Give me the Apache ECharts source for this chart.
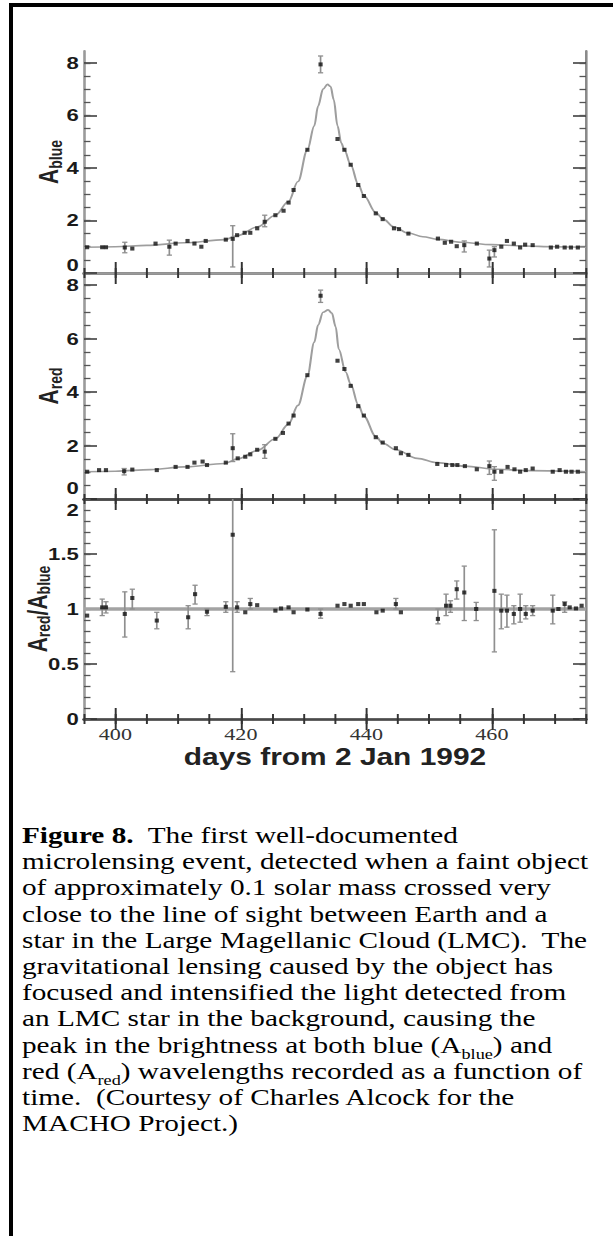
<!DOCTYPE html>
<html><head><meta charset="utf-8">
<script src="https://cdn.jsdelivr.net/npm/echarts@6/dist/echarts.min.js"></script>
<style>
html,body{margin:0;padding:0;background:#fff;width:613px;height:1236px;overflow:hidden;position:relative;}
#chart{position:absolute;left:0;top:0;width:471.5px;height:800px;transform:scaleX(1.3);transform-origin:0 0;z-index:1;}
#frameTop{position:absolute;left:9px;top:3px;width:604px;height:4px;background:#000;z-index:5;}
#frameLeft{position:absolute;left:9px;top:3px;width:4px;height:1233px;background:#000;z-index:5;}
#caption{position:absolute;left:22px;top:823px;font-family:"Liberation Serif","Times New Roman",serif;font-size:22.5px;line-height:26.2px;color:#000;white-space:nowrap;transform:scaleX(1.3);transform-origin:0 0;z-index:2;}
#caption sub{font-size:14px;line-height:0;}
</style></head><body>
<div id="chart"></div>
<div id="frameTop"></div><div id="frameLeft"></div>
<div id="caption"><b>Figure 8.</b>&nbsp; The first well-documented<br>microlensing event, detected when a faint object<br>of approximately 0.1 solar mass crossed very<br>close to the line of sight between Earth and a<br>star in the Large Magellanic Cloud (LMC).&nbsp; The<br>gravitational lensing caused by the object has<br>focused and intensified the light detected from<br>an LMC star in the background, causing the<br>peak in the brightness at both blue (A<sub>blue</sub>) and<br>red (A<sub>red</sub>) wavelengths recorded as a function of<br>time.&nbsp; (Courtesy of Charles Alcock for the<br>MACHO Project.)</div>
<script>
// ---------- axis settings ----------
const dayMin = 395, dayMax = 475;
const dayLabelTicks = [400, 420, 440, 460];
const dayMinorStep = 5;
const ampMax = 8.45;
const ampMajorTicks = [0, 2, 4, 6, 8];
const ampMinorStep = 0.5;
const ratioMax = 2;
const ratioMajorTicks = [0, 0.5, 1, 1.5, 2];
const ratioMinorStep = 0.1;
const ratioRefLevel = 1;

// ---------- A_blue ----------
const blueDays = [395.5,397.9,398.5,401.5,402.7,406.4,408.6,409.6,411.5,412.6,413.7,414.4,417.6,418.7,419.4,420.6,421.5,422.6,423.8,425.5,426.8,427.6,428.4,430.6,432.7,435.4,436.5,437.5,438.7,439.6,441.5,442.6,444.4,445.2,446.7,451.4,452.5,453.5,454.4,455.6,457.6,459.6,460.4,461.5,462.4,463.5,464.5,465.3,466.5,469.4,470.4,471.6,472.6,473.7];
const blueVals = [0.98,0.98,0.98,0.97,0.93,1.12,1.0,1.12,1.22,1.12,1.0,1.22,1.27,1.3,1.44,1.53,1.53,1.7,1.95,2.2,2.37,2.68,3.16,4.69,7.94,5.1,4.69,4.12,3.35,2.93,2.27,2.05,1.7,1.67,1.5,1.31,1.15,1.19,1.02,1.06,1.12,0.55,0.87,1.0,1.22,1.12,0.97,1.08,1.06,0.97,1.0,0.97,0.97,0.97];
const blueErrDays = [401.5,408.6,418.7,423.8,432.7,455.6,459.6,460.4];
const blueErrLow  = [0.77,0.68,0.23,1.76,7.62,0.8,0.23,0.61];
const blueErrHigh = [1.17,1.25,1.8,2.2,8.26,1.22,0.87,1.0];
const blueFitDays = [395,400,405,411,417.4,419.5,422.7,425.5,427.6,429.1,430.6,431.7,432.3,433.1,433.8,434.3,434.8,435.4,436,436.5,437.5,438.7,439.6,441.5,442.6,444.4,446.7,449,451.4,455,460,465,470,475];
const blueFitVals = [0.98,1.0,1.05,1.15,1.27,1.43,1.76,2.2,2.72,3.48,4.69,5.6,6.35,7.0,7.18,7.1,6.6,5.6,4.95,4.68,4.12,3.38,2.95,2.3,2.07,1.75,1.52,1.38,1.28,1.17,1.08,1.03,1.0,0.98];

// ---------- A_red ----------
const redDays = [395.5,397.4,398.5,401.4,402.7,406.6,409.6,411.5,412.6,413.9,414.6,417.6,418.7,419.5,420.7,421.5,422.6,423.8,425.5,426.7,427.6,428.4,430.6,432.7,435.4,436.5,437.5,438.7,439.6,441.5,442.6,444.7,445.5,446.7,451.3,452.7,453.7,454.5,455.7,457.6,459.6,460.4,461.5,462.5,463.6,464.5,465.4,466.5,469.7,470.8,471.8,472.7,473.7];
const redVals = [1.02,1.08,1.08,1.04,1.1,1.08,1.2,1.2,1.36,1.4,1.27,1.36,1.9,1.52,1.58,1.67,1.84,1.77,2.25,2.47,2.82,3.12,4.63,7.6,5.17,4.86,4.23,3.47,3.12,2.31,2.11,1.9,1.71,1.65,1.31,1.27,1.27,1.27,1.23,1.11,1.23,1.02,1.02,1.2,1.11,1.02,1.08,1.14,1.02,1.08,1.02,1.02,1.02];
const redErrDays = [401.4,418.7,423.8,432.7,459.6,460.4];
const redErrLow  = [0.9,1.4,1.52,7.35,0.92,0.7];
const redErrHigh = [1.14,2.44,2.03,7.81,1.42,1.21];
const redFitDays = [395,400,405.6,411,417.4,419.5,422.7,425.5,427.6,429.1,430.6,431.7,432.3,433.1,433.9,434.5,435.1,435.6,436.7,437.5,438.7,439.6,441.5,442.6,444.7,448.1,451.3,455.6,461,466.3,475];
const redFitVals = [1.02,1.04,1.1,1.2,1.33,1.5,1.82,2.25,2.8,3.5,4.6,5.86,6.5,6.98,7.07,6.95,6.45,5.6,4.75,4.3,3.53,3.1,2.34,2.09,1.84,1.52,1.36,1.23,1.11,1.06,1.02];

// ---------- A_red / A_blue ----------
const ratioDays = [395.5,397.9,398.5,401.5,402.7,406.6,411.6,412.7,414.6,417.6,418.7,419.4,420.7,421.5,422.6,425.5,426.4,427.6,428.4,430.6,432.7,435.4,436.5,437.5,438.7,439.6,441.6,442.6,444.7,445.5,451.4,452.7,453.4,454.4,455.6,457.5,460.4,461.5,462.4,463.5,464.5,465.4,466.5,469.7,470.6,471.6,472.4,473.4,474.3];
const ratioVals = [0.94,1.015,1.015,0.955,1.1,0.895,0.925,1.135,0.975,1.02,1.675,1.015,0.97,1.045,1.035,0.985,1.005,1.015,0.97,0.995,0.955,1.03,1.045,1.03,1.045,1.045,0.97,0.985,1.045,0.97,0.91,1.03,1.03,1.18,1.15,1.0,1.165,0.985,0.985,0.955,1.0,0.955,0.985,0.985,1.0,1.045,1.015,1.005,1.03];
const ratioErrDays = [397.9,398.5,401.5,402.7,406.6,411.6,412.7,414.6,417.6,418.7,419.4,421.5,432.7,444.7,451.4,452.7,453.4,454.4,455.6,457.5,460.4,461.5,462.4,463.5,464.5,465.4,466.5,469.7,471.6];
const ratioErrLow  = [0.94,0.964,0.745,1.0,0.82,0.82,1.045,0.94,0.97,0.43,0.97,1.0,0.916,1.0,0.865,0.94,0.97,1.09,0.895,0.895,0.61,0.82,0.835,0.865,0.88,0.91,0.94,0.865,0.97];
const ratioErrHigh = [1.09,1.066,1.156,1.18,0.97,1.03,1.216,1.0,1.066,2.92,1.066,1.096,1.0,1.096,1.0,1.135,1.075,1.255,1.39,1.06,1.72,1.135,1.126,1.03,1.135,1.03,1.03,1.126,1.066];

// ---------- layout / style ----------
const S = 1.3; // horizontal stretch of the original figure
const frameGray = '#9a9a9a', sharedDark = '#4a4a4a', tickColor = '#333';
const gridBox = [
  {left: 84 / S, top: 51, width: 502 / S, height: 222, outerBoundsMode: 'none'},
  {left: 84 / S, top: 273, width: 502 / S, height: 226, outerBoundsMode: 'none'},
  {left: 84 / S, top: 499, width: 502 / S, height: 220, outerBoundsMode: 'none'}
];
function steps(max, step) { const a = []; for (let i = 0; i * step <= max + 1e-9; i++) a.push(+(i * step).toFixed(4)); return a; }
const ampMinorTicks = steps(ampMax, ampMinorStep);
const ratioMinorTicks = steps(ratioMax, ratioMinorStep);
const zip = (a, b) => a.map((v, i) => [v, b[i]]);
const zip3 = (a, b, c) => a.map((v, i) => [v, b[i], c[i]]);

const xAxis = [], yAxis = [];
const lineColors = [[frameGray, sharedDark], [sharedDark, sharedDark], [sharedDark, frameGray]]; // [top, bottom]
const yNames = [
  '{a|A}{s|blue}',
  '{a|A}{s|red}',
  '{a|A}{s|red}{a|/A}{s|blue}'
];
const nameRich = {
  a: {fontFamily: 'Liberation Sans', fontWeight: 'bold', fontSize: 21, color: '#222', lineHeight: 24},
  s: {fontFamily: 'Liberation Sans', fontWeight: 'bold', fontSize: 14, color: '#222', lineHeight: 10, verticalAlign: 'bottom'}
};
const tickFont = {fontFamily: 'Liberation Sans', fontWeight: 'bold', fontSize: 17, color: '#1a1a1a'};
const labelRich = {
  n: Object.assign({}, tickFont),
  up: Object.assign({}, tickFont, {padding: [0, 0, 16, 0]}),
  up2: Object.assign({}, tickFont, {padding: [0, 0, 22, 0]}),
  down2: Object.assign({}, tickFont, {padding: [22, 0, 0, 0]})
};
// labels that sit on a shared panel edge are nudged apart
const labelFormatters = [
  v => v === 0 ? '{up|0}' : '{n|' + v + '}',
  v => v === 0 ? '{up2|0}' : '{n|' + v + '}',
  v => v === 2 ? '{down2|2}' : '{n|' + v + '}'
];
for (let g = 0; g < 3; g++) {
  const base = {gridIndex: g, type: 'value', min: dayMin, max: dayMax, splitLine: {show: false}};
  const tickStyle = {color: tickColor, width: 1.5};
  ['bottom', 'top'].forEach(pos => {
    const lc = pos === 'top' ? lineColors[g][0] : lineColors[g][1];
    const withLabels = (g === 2 && pos === 'bottom');
    xAxis.push(Object.assign({}, base, {
      position: pos, interval: dayMinorStep,
      axisLine: {show: true, lineStyle: {color: lc, width: 2.6}},
      axisTick: {show: true, inside: true, length: 5, lineStyle: tickStyle},
      axisLabel: withLabels ? {customValues: dayLabelTicks, margin: 6, fontFamily: 'Liberation Serif', fontSize: 17, color: '#333'} : {show: false},
      name: withLabels ? 'days from 2 Jan 1992' : '',
      nameLocation: 'middle', nameGap: 27, nameMoveOverlap: false,
      nameTextStyle: {fontFamily: 'Liberation Sans', fontWeight: 'bold', fontSize: 23, color: '#222'}
    }));
    xAxis.push(Object.assign({}, base, {
      position: pos,
      axisLine: {show: false},
      axisTick: {show: true, inside: true, length: 11, customValues: dayLabelTicks, lineStyle: tickStyle},
      axisLabel: {show: false}
    }));
  });
  const ymax = g === 2 ? ratioMax : ampMax;
  const majors = g === 2 ? ratioMajorTicks : ampMajorTicks;
  const minors = g === 2 ? ratioMinorTicks : ampMinorTicks;
  const ybase = {gridIndex: g, type: 'value', min: 0, max: ymax, splitLine: {show: false}};
  ['left', 'right'].forEach(pos => {
    const main = pos === 'left';
    yAxis.push(Object.assign({}, ybase, {
      position: pos,
      axisLine: {show: true, lineStyle: {color: main ? frameGray : '#8a8a8a', width: 2}},
      axisTick: {show: true, inside: true, length: 10, customValues: majors, lineStyle: {color: tickColor, width: 1.5}},
      axisLabel: main ? Object.assign({customValues: majors, margin: 4, formatter: labelFormatters[g], rich: labelRich}, tickFont) : {show: false},
      name: main ? yNames[g] : '',
      nameLocation: 'middle', nameRotate: 90, nameGap: g === 2 ? 24 : 15, nameMoveOverlap: false,
      nameTextStyle: {rich: nameRich}
    }));
    yAxis.push(Object.assign({}, ybase, {
      position: pos,
      axisLine: {show: false},
      axisTick: {show: true, inside: true, length: 5, customValues: minors, lineStyle: {color: '#555', width: 1.3}},
      axisLabel: {show: false}
    }));
  });
}

function renderErr(params, api) {
  const d = api.value(0), lo = api.value(1), hi = api.value(2);
  const pLo = api.coord([d, lo]), pHi = api.coord([d, hi]);
  const cs = params.coordSys;
  const top = cs.y, bot = cs.y + cs.height;
  const x = pLo[0];
  const yLo = Math.min(pLo[1], bot), yHi = Math.max(pHi[1], top);
  const cap = 2;
  const style = {stroke: '#8f8f8f', lineWidth: 1.3};
  const children = [{type: 'line', shape: {x1: x, y1: yLo, x2: x, y2: yHi}, style}];
  if (pHi[1] >= top) children.push({type: 'line', shape: {x1: x - cap, y1: yHi, x2: x + cap, y2: yHi}, style});
  if (pLo[1] <= bot) children.push({type: 'line', shape: {x1: x - cap, y1: yLo, x2: x + cap, y2: yLo}, style});
  return {type: 'group', children};
}
function fitSeries(g, days, vals) {
  return {type: 'line', xAxisIndex: 4 * g, yAxisIndex: 4 * g, data: zip(days, vals), smooth: 0.35, smoothMonotone: 'x',
    showSymbol: false, lineStyle: {color: '#9e9e9e', width: 1.6}, z: 2, silent: true};
}
function errSeries(g, days, lo, hi) {
  return {type: 'custom', xAxisIndex: 4 * g, yAxisIndex: 4 * g, data: zip3(days, lo, hi), renderItem: renderErr,
    encode: {x: 0, y: [1, 2]}, z: 3, silent: true};
}
function ptSeries(g, days, vals) {
  return {type: 'scatter', xAxisIndex: 4 * g, yAxisIndex: 4 * g, data: zip(days, vals), symbol: 'rect', symbolSize: [3.2, 4],
    itemStyle: {color: '#111'}, z: 4, silent: true};
}
const series = [
  fitSeries(0, blueFitDays, blueFitVals), errSeries(0, blueErrDays, blueErrLow, blueErrHigh), ptSeries(0, blueDays, blueVals),
  fitSeries(1, redFitDays, redFitVals), errSeries(1, redErrDays, redErrLow, redErrHigh), ptSeries(1, redDays, redVals),
  {type: 'line', xAxisIndex: 8, yAxisIndex: 8, data: [[dayMin, ratioRefLevel], [dayMax, ratioRefLevel]], showSymbol: false,
    lineStyle: {color: '#a3a3a3', width: 3.5}, z: 2, silent: true},
  errSeries(2, ratioErrDays, ratioErrLow, ratioErrHigh), ptSeries(2, ratioDays, ratioVals)
];

const chart = echarts.init(document.getElementById('chart'), null, {renderer: 'svg'});
chart.setOption({
  animation: false,
  backgroundColor: 'transparent',
  grid: gridBox,
  xAxis, yAxis, series
});
</script>
</body></html>
